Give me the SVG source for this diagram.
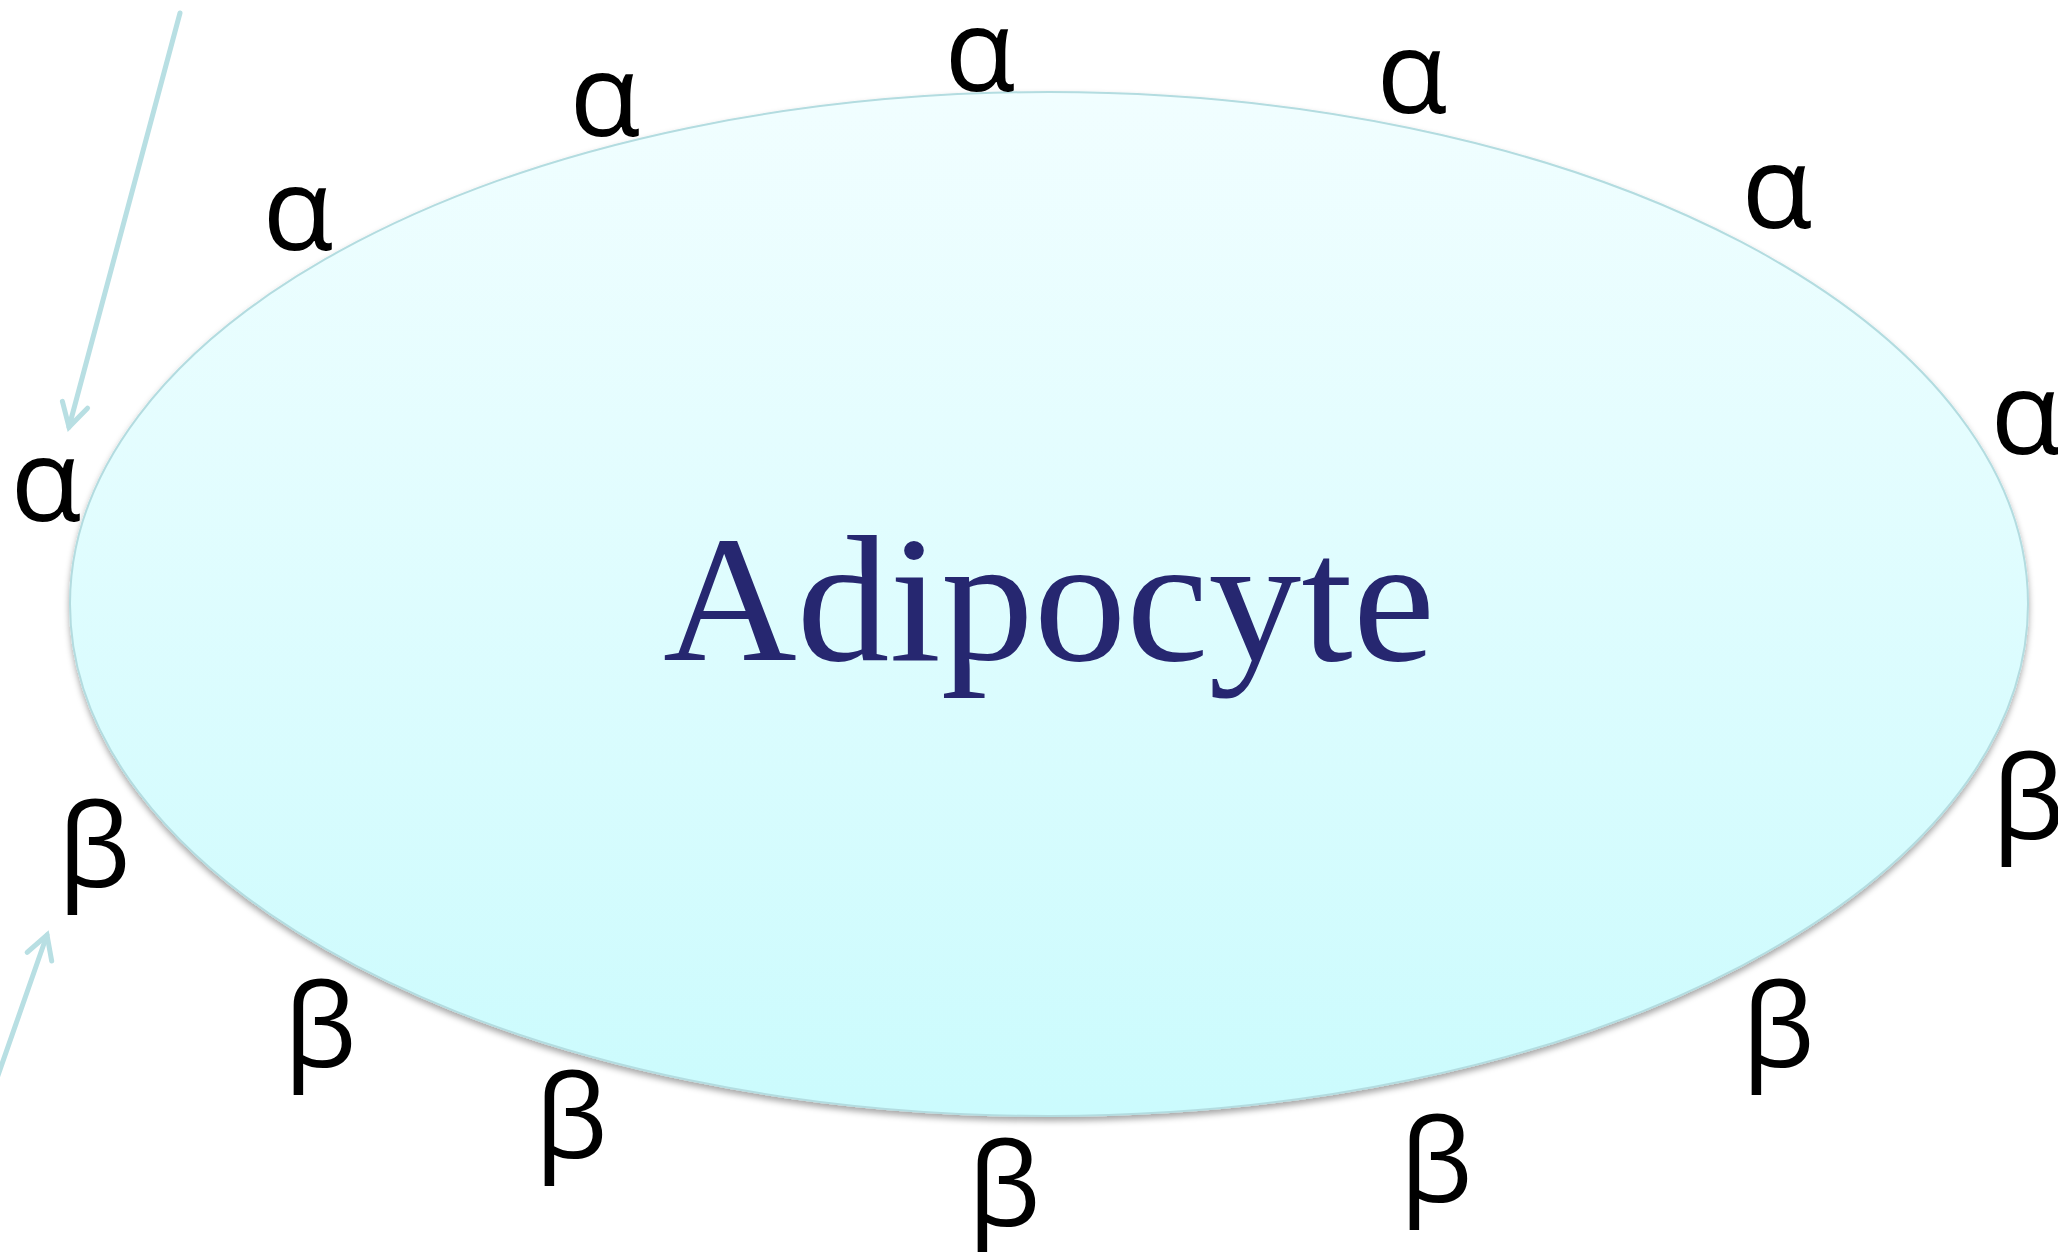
<svg xmlns="http://www.w3.org/2000/svg" width="2058" height="1252" viewBox="0 0 2058 1252">
  <style>
    .greek { font-family: "Open Sans", "DejaVu Sans", sans-serif; font-size: 116px; font-weight: 500; fill: #000000; text-anchor: middle; }
    .title { font-family: "Liberation Serif", "Times New Roman", serif; font-size: 180px; fill: #262770; text-anchor: middle; }
    .conn { stroke: #B8DFE3; stroke-width: 5; fill: none; stroke-linecap: round; }
  </style>
  <defs>
    <linearGradient id="cellFill" x1="0" y1="0" x2="0" y2="1">
      <stop offset="0" stop-color="#F1FEFF"/>
      <stop offset="1" stop-color="#CBFBFD"/>
    </linearGradient>
    <filter id="shadow" x="-5%" y="-5%" width="110%" height="115%">
      <feDropShadow dx="0" dy="4" stdDeviation="3" flood-color="#000000" flood-opacity="0.35"/>
    </filter>
    <marker id="arrow" markerUnits="userSpaceOnUse" markerWidth="60" markerHeight="60" viewBox="-30 -30 60 60" refX="0" refY="0" orient="auto" overflow="visible">
      <path d="M -23 -13 L 0 0 L -23 13" stroke="#B8DFE3" stroke-width="5" fill="none" stroke-linecap="round" stroke-linejoin="miter"/>
    </marker>
  </defs>

  <rect x="0" y="0" width="2058" height="1252" fill="#FFFFFF"/>

  <g id="adipocyte">
    <ellipse cx="1049" cy="604" rx="979" ry="512" fill="url(#cellFill)" stroke="#B3DCE0" stroke-width="2" filter="url(#shadow)"/>
    <text class="title" x="1049" y="660" textLength="772" lengthAdjust="spacingAndGlyphs">Adipocyte</text>
  </g>

  <g id="alpha-receptors">
    <text id="alpha1" class="greek" x="46" y="521">α</text>
    <text id="alpha2" class="greek" x="298" y="250">α</text>
    <text id="alpha3" class="greek" x="605" y="136">α</text>
    <text id="alpha4" class="greek" x="980" y="91">α</text>
    <text id="alpha5" class="greek" x="1412" y="113">α</text>
    <text id="alpha6" class="greek" x="1777" y="228">α</text>
    <text id="alpha7" class="greek" x="2026" y="454">α</text>
  </g>

  <g id="beta-receptors">
    <text id="beta1" class="greek" x="94" y="887">β</text>
    <text id="beta2" class="greek" x="320" y="1067">β</text>
    <text id="beta3" class="greek" x="571" y="1158">β</text>
    <text id="beta4" class="greek" x="1004" y="1226">β</text>
    <text id="beta5" class="greek" x="1436" y="1202">β</text>
    <text id="beta6" class="greek" x="1778" y="1067">β</text>
    <text id="beta7" class="greek" x="2028" y="839">β</text>
  </g>

  <g id="connectors">
    <line class="conn" x1="180" y1="13" x2="69" y2="427" marker-end="url(#arrow)"/>
    <line class="conn" x1="-12" y1="1104" x2="47" y2="935" marker-end="url(#arrow)"/>
  </g>
</svg>
